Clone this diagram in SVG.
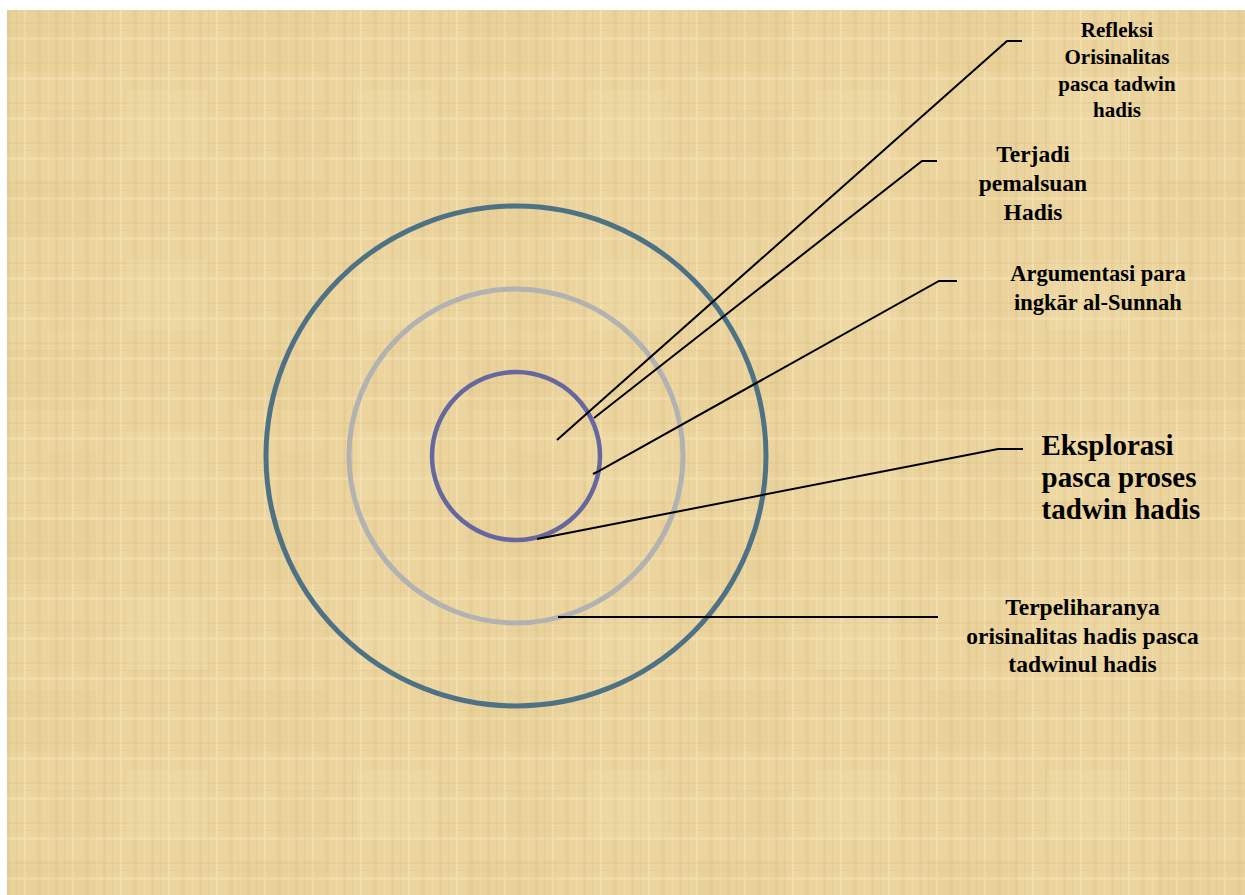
<svg xmlns="http://www.w3.org/2000/svg" width="1245" height="895" viewBox="0 0 1245 895">
  <defs>
    <pattern id="weave" x="7" y="10" width="48" height="40" patternUnits="userSpaceOnUse">
      <rect width="48" height="40" fill="#ebd49e"/>
      <rect x="0" y="0" width="3" height="40" fill="#dcc085" opacity="0.35"/>
      <rect x="9" y="0" width="1" height="40" fill="#d7bb80" opacity="0.3"/>
      <rect x="17" y="0" width="2" height="40" fill="#f6e2b5" opacity="0.6"/>
      <rect x="30" y="0" width="4" height="40" fill="#d9bd82" opacity="0.25"/>
      <rect x="41" y="0" width="1" height="40" fill="#f5e1b3" opacity="0.5"/>
      <rect x="0" y="12" width="48" height="2" fill="#dcc085" opacity="0.3"/>
      <rect x="0" y="20" width="48" height="1" fill="#d7bb80" opacity="0.25"/>
      <rect x="0" y="27" width="48" height="3" fill="#f5e1b3" opacity="0.5"/>
    </pattern>
    <pattern id="blotch" x="7" y="10" width="230" height="170" patternUnits="userSpaceOnUse">
      <rect x="0" y="0" width="90" height="60" fill="#d8bb7c" opacity="0.1"/>
      <rect x="120" y="80" width="80" height="70" fill="#f7e4ba" opacity="0.18"/>
      <rect x="40" y="100" width="50" height="50" fill="#d5b779" opacity="0.08"/>
    </pattern>
    <style>
      .lbl { font-family: "Liberation Serif", "Times New Roman", serif; font-weight: bold; fill: #000; }
      .conn { fill: none; stroke: #000; stroke-width: 2; }
      .ring { fill: none; }
    </style>
  </defs>

  <rect width="1245" height="895" fill="#ffffff"/>
  <rect x="7" y="10" width="1238" height="885" fill="url(#weave)"/>
  <rect x="7" y="10" width="1238" height="885" fill="url(#blotch)"/>

  <g id="ring-outer">
    <circle class="ring" cx="516" cy="456" r="250" stroke="#4e7285" stroke-width="5"/>
  </g>
  <g id="ring-middle">
    <circle class="ring" cx="516" cy="456" r="167" stroke="#b2b2b2" stroke-width="5"/>
  </g>
  <g id="ring-inner">
    <circle class="ring" cx="516" cy="456" r="84" stroke="#6767a0" stroke-width="4.5"/>
  </g>

  <g id="connectors">
    <polyline class="conn" points="557,440 1007,41 1022,41"/>
    <polyline class="conn" points="594,418 922,161 937,161"/>
    <polyline class="conn" points="593,474 597,472 939,281 957,281"/>
    <polyline class="conn" points="537,539 998,449 1023,449"/>
    <polyline class="conn" points="558,617 938,617"/>
  </g>

  <g id="label-refleksi">
    <text class="lbl" font-size="21" text-anchor="middle" x="1117" y="37">Refleksi</text>
    <text class="lbl" font-size="21" text-anchor="middle" x="1117" y="63.5">Orisinalitas</text>
    <text class="lbl" font-size="21" text-anchor="middle" x="1117" y="90.5">pasca tadwin</text>
    <text class="lbl" font-size="21" text-anchor="middle" x="1117" y="117">hadis</text>
  </g>
  <g id="label-terjadi">
    <text class="lbl" font-size="23.5" text-anchor="middle" x="1033" y="162">Terjadi</text>
    <text class="lbl" font-size="23.5" text-anchor="middle" x="1033" y="191">pemalsuan</text>
    <text class="lbl" font-size="23.5" text-anchor="middle" x="1033" y="220">Hadis</text>
  </g>
  <g id="label-argumentasi">
    <text class="lbl" font-size="22.5" text-anchor="middle" x="1098" y="281">Argumentasi para</text>
    <text class="lbl" font-size="22.5" text-anchor="middle" x="1098" y="310">ingkār al-Sunnah</text>
  </g>
  <g id="label-eksplorasi">
    <text class="lbl" font-size="29" x="1041.5" y="455">Eksplorasi</text>
    <text class="lbl" font-size="29" x="1041.5" y="487">pasca proses</text>
    <text class="lbl" font-size="29" x="1041.5" y="519">tadwin hadis</text>
  </g>
  <g id="label-terpeliharanya">
    <text class="lbl" font-size="23.5" text-anchor="middle" x="1082.5" y="615">Terpeliharanya</text>
    <text class="lbl" font-size="23.5" text-anchor="middle" x="1082.5" y="643.5">orisinalitas hadis pasca</text>
    <text class="lbl" font-size="23.5" text-anchor="middle" x="1082.5" y="672">tadwinul hadis</text>
  </g>
</svg>
